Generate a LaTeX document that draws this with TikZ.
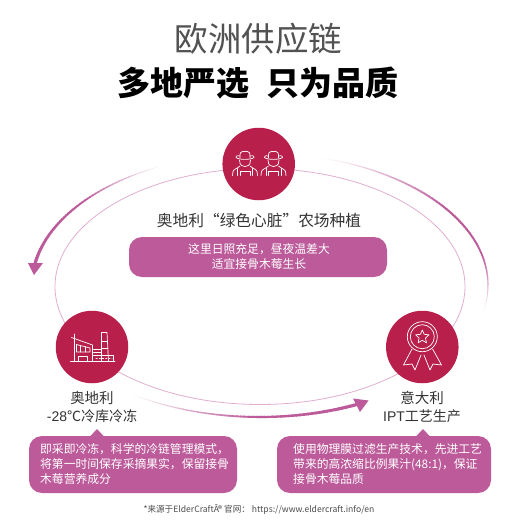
\documentclass[tikz,border=0pt]{standalone}
\usepackage{fontspec}
\setmainfont{Noto Sans CJK SC}
\newfontfamily\latinf{Liberation Sans}
\definecolor{rosepill}{HTML}{BC5A9A}
\definecolor{crimson}{HTML}{B81F4B}
\definecolor{ringthin}{HTML}{E2AED0}
\definecolor{bodytxt}{HTML}{333333}
\tikzset{
  badge/.style={circle,fill=crimson,minimum size=72.5pt,inner sep=0pt},
  pill/.style={rectangle,rounded corners=13pt,fill=rosepill,inner sep=0pt},
  iconline/.style={draw=white,line width=0.7pt,line join=round,line cap=round},
  label/.style={font=\fontsize{14.5pt}{18pt}\selectfont,text=bodytxt,align=center,inner sep=0pt},
  pilltxt/.style={font=\fontsize{11.8pt}{15pt}\selectfont,text=white,inner sep=0pt},
}
\newcommand{\farmer}[1]{%
  \begin{scope}[shift={(#1,151)}]
    \draw[iconline] (-5,7) .. controls (-5.5,2) and (-4,0) .. (-2,0.3) .. controls (-1,0.8) and (1,0.8) .. (2,0.3) .. controls (4,0) and (5.5,2) .. (5,7);
    \draw[iconline] (-5,5) .. controls (-8,4.5) and (-10,5) .. (-9,6.5) .. controls (-6,9) and (6,9) .. (9,6.5) .. controls (10,5) and (8,4.5) .. (5,5);
    \draw[iconline] (-5.5,9) .. controls (-5.5,15) and (-2,15.5) .. (0,15.5) .. controls (2,15.5) and (5.5,15) .. (5.5,9);
    \draw[iconline] (-12.5,24.5) -- (-12,20.5) .. controls (-11.5,18.5) and (-8,17.5) .. (-5,15);
    \draw[iconline] (12.5,24.5) -- (12,20.5) .. controls (11.5,18.5) and (8,17.5) .. (5,15);
    \draw[iconline] (-7.5,24.5) -- (-7.5,17.5) (7.5,24.5) -- (7.5,17.5);
    \draw[iconline] (-5,24.5) -- (-5,20) -- (5,20) -- (5,24.5);
  \end{scope}}
\begin{document}
\begin{tikzpicture}[x=1pt,y=-1pt]
\useasboundingbox (0,0) rectangle (520,520);
\fill[white] (0,0) rectangle (520,520);

% titles
\node[inner sep=0pt,text=black!68,font=\fontsize{33.5pt}{36pt}\selectfont] (title) at (258.5,39) {欧洲供应链};
\node[inner sep=0pt,text=black,font=\fontsize{33pt}{36pt}\selectfont\bfseries] (subtitle) at (258,83) {多地严选 \hspace{9pt}只为品质};

% thin ring
\coordinate (ringc) at (260,286.5);
\draw[ringthin,line width=0.8pt] (ringc) ellipse [x radius=205pt,y radius=118pt];

% tapered, fading outer arcs
\foreach \t in {115,116,...,170}{
  \pgfmathsetmacro{\f}{(\t-115)/55}
  \pgfmathsetmacro{\m}{100*min(1,2.2*\f)}
  \pgfmathsetmacro{\w}{0.6+2.6*\f}
  \draw[rosepill!\m!white,line width=\w pt] ({260+228*cos(\t)},{285-132*sin(\t)}) -- ({260+228*cos(\t+1.3)},{285-132*sin(\t+1.3)});
}
\foreach \t in {-12,-11,...,74}{
  \pgfmathsetmacro{\f}{(\t+12)/86}
  \pgfmathsetmacro{\m}{100*min(1,min(3.5*\f,2.2*(1-\f)))}
  \pgfmathsetmacro{\w}{0.4+1.6*sin(180*\f)}
  \draw[rosepill!\m!white,line width=\w pt] ({260+228*cos(\t)},{285-132*sin(\t)}) -- ({260+228*cos(\t+1.3)},{285-132*sin(\t+1.3)});
}
\foreach \t in {235,236,...,294}{
  \pgfmathsetmacro{\f}{(\t-235)/59}
  \pgfmathsetmacro{\m}{100*min(1,1.8*\f)}
  \pgfmathsetmacro{\w}{0.5+2.7*\f}
  \draw[rosepill!\m!white,line width=\w pt] ({260+228*cos(\t)},{285-132*sin(\t)}) -- ({260+228*cos(\t+1.3)},{285-132*sin(\t+1.3)});
}
\fill[rosepill] (34,275) -- (28,263) -- (43,263) -- cycle;
\fill[rosepill] (368.5,400.5) -- (353,398.5) -- (360,412) -- cycle;

% badges
\node[badge] (farm) at (258.7,164) {};
\node[badge] (cold) at (92,347) {};
\node[badge] (ipt) at (422.3,347) {};

% farmers icon
\farmer{245}
\farmer{273.5}

% factory icon
\draw[iconline] (70.5,361.7) -- (115,361.7);
\draw[iconline] (74,361.7) -- (74,334);
\draw[iconline] (71.5,337.5) -- (92.5,345) -- (92.5,361.7);
\draw[iconline] (76.5,344.5) -- (90,348) -- (90,352) -- (76.5,352) -- cycle;
\draw[iconline] (80.5,345.5) -- (80.5,352) (85,346.8) -- (85,352);
\draw[iconline] (78.5,361.7) -- (78.5,356.5) -- (87.5,356.5) -- (87.5,361.7);
\draw[iconline] (101.5,361.7) -- (101.5,332.5) -- (107,332.5) -- (108.5,361.7);
\draw[iconline] (101.5,341.5) -- (107.5,341.5) (101.5,348.5) -- (108,348.5);
\draw[iconline] (93.5,349.5) -- (101.5,349.5) (93.5,355) -- (113.5,355) -- (113.5,361.7);
\draw[iconline] (93.5,352.5) -- (101.5,352.5);
\draw[iconline,dash pattern=on 1.2pt off 2pt] (96,358.5) -- (112,358.5);

% medal icon
\draw[iconline] (422.3,336.7) circle [radius=15pt];
\draw[iconline] (422.3,336.7) circle [radius=12pt];
\draw[iconline] (422.3,330) -- (424.2,334.3) -- (429,334.8) -- (425.5,338) -- (426.5,342.8) -- (422.3,340.3) -- (418.1,342.8) -- (419.1,338) -- (415.6,334.8) -- (420.4,334.3) -- cycle;
\draw[iconline] (412,349) -- (403.5,365) -- (412,364) -- (415,370) -- (421,355);
\draw[iconline] (432.6,349) -- (441.5,365) -- (433,364) -- (430,370) -- (424,355);

% labels
\node[label,font=\fontsize{15.7pt}{18pt}\selectfont] (farmlbl) at (259,221) {奥地利“绿色心脏”农场种植};
\node[label] (coldlbl) at (92,407) {奥地利\\[0pt]\fontsize{14pt}{18pt}\selectfont{\latinf -28}℃冷库冷冻};
\node[label] (iptlbl) at (422,407) {意大利\\[0pt]\fontsize{14pt}{18pt}\selectfont{\latinf IPT}工艺生产};

% pills
\node[pill,minimum width=258pt,minimum height=40pt] (farmpill) at (258,257) {};
\node[pilltxt,align=center] (farmtxt) at (259,256.5) {这里日照充足，昼夜温差大\\适宜接骨木莓生长};

\node[pill,minimum width=208pt,minimum height=57pt] (coldpill) at (133,464.5) {};
\fill[rosepill] (89.5,437) -- (97,429) -- (104.5,437) -- cycle;
\node[pilltxt,align=left,anchor=west] (coldtxt) at (40,464) {即采即冷冻，科学的冷链管理模式，\\将第一时间保存采摘果实，保留接骨\\木莓营养成分};

\node[pill,minimum width=214pt,minimum height=57pt] (iptpill) at (384,464.5) {};
\fill[rosepill] (415.5,437) -- (423,429) -- (430.5,437) -- cycle;
\node[pilltxt,align=left,anchor=west] (ipttxt) at (293,464) {使用物理膜过滤生产技术，先进工艺\\带来的高浓缩比例果汁(48:1)，保证\\接骨木莓品质};

% footnote
\node[inner sep=0pt,text=black!70,font=\fontsize{8.6pt}{10pt}\selectfont] (foot) at (259,509) {*来源于ElderCraftÂ® 官网： https://www.eldercraft.info/en};
\end{tikzpicture}
\end{document}
